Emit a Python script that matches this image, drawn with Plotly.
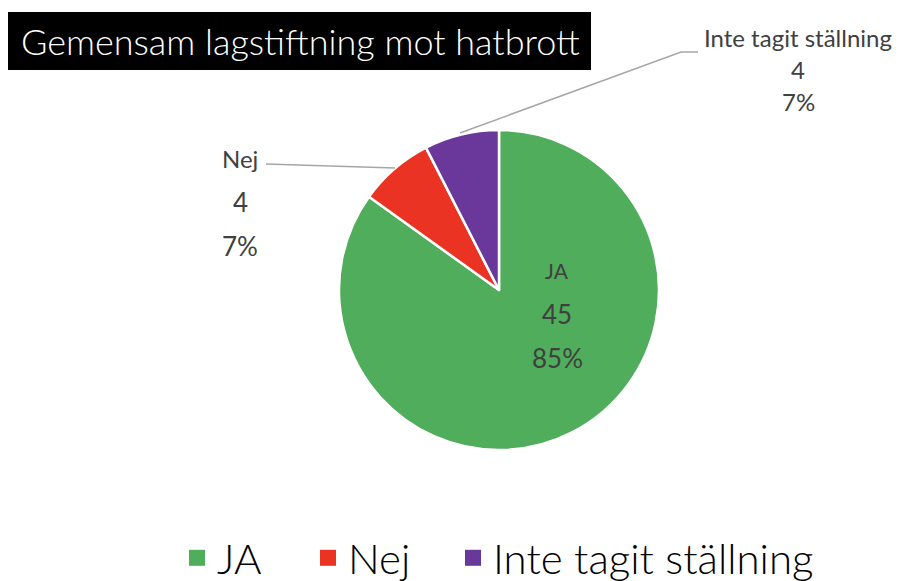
import plotly.graph_objects as go

labels = ["JA", "Nej", "Inte tagit ställning"]
values = [45, 4, 4]
percents = ["85%", "7%", "7%"]
colors = ["#4FAD5B", "#EB3323", "#6A389A"]
title_text = "Gemensam lagstiftning mot hatbrott"

OFF = 8  # page body margin
W, H = 901 - OFF, 581 - OFF + 11
cx, cy, r = 499, 290, 160

def px(x):
    return (x - OFF) / W

def py(y):
    return 1 - (y - OFF) / H

fig = go.Figure()
fig.add_trace(go.Pie(
    labels=labels, values=values, sort=False, direction="clockwise", rotation=0,
    marker=dict(colors=colors, line=dict(color="white", width=2.5)),
    textinfo="none", hoverinfo="label+value+percent", showlegend=False,
    domain=dict(x=[px(cx - r), px(cx + r)], y=[py(cy + r), py(cy - r)]),
))
# legend entries (square markers) for the three categories, one legend each
legend_ids = ["legend", "legend2", "legend3"]
for lab, col, lid in zip(labels, colors, legend_ids):
    fig.add_trace(go.Scatter(x=[None], y=[None], mode="markers", name=lab, legend=lid,
                             marker=dict(symbol="square", size=22, color=col),
                             hoverinfo="skip"))

label_font = dict(family="Lato, Open Sans, sans-serif", color="#404040")
ann = []
label_pos = [
    (557, [270, 314, 358], [21, 26, 26]),
    (240, [158, 202, 246], [24, 26, 26]),
    (798, [38, 70, 102], [24, 24, 24]),
]
for i, (x, ys, sizes) in enumerate(label_pos):
    lines = [labels[i], str(values[i]), percents[i]]
    for t, yy, s in zip(lines, ys, sizes):
        ann.append(dict(x=px(x), y=py(yy), xref="paper", yref="paper", text=t,
                        showarrow=False, xanchor="center", yanchor="middle",
                        font=dict(size=s, **label_font)))

ann.append(dict(x=px(300), y=py(41), xref="paper", yref="paper", text=title_text,
                showarrow=False, xanchor="center", yanchor="middle",
                font=dict(family="Lato, sans-serif", size=36, color="white", weight=300)))

shapes = [
    dict(type="rect", xref="paper", yref="paper", x0=px(8), x1=px(591), y0=py(70), y1=py(12),
         fillcolor="black", line=dict(width=0)),
    dict(type="path", xref="paper", yref="paper",
         path=f"M{px(266)},{py(164)} L{px(395)},{py(168)}",
         line=dict(color="#A6A6A6", width=1.5)),
    dict(type="path", xref="paper", yref="paper",
         path=f"M{px(460)},{py(133)} L{px(681)},{py(52)} L{px(698)},{py(52)}",
         line=dict(color="#A6A6A6", width=1.5)),
]

legend_font = dict(family="Lato, sans-serif", size=42, color="black", weight=300)
legend_x = [177, 308, 453]
legends = {}
for lid, lx in zip(legend_ids, legend_x):
    legends[lid] = dict(orientation="h", x=px(lx), xanchor="left", y=0, yanchor="bottom",
                        font=legend_font, bgcolor="rgba(0,0,0,0)")

fig.update_layout(
    width=W, height=H, margin=dict(l=0, r=0, t=0, b=0),
    paper_bgcolor="white", plot_bgcolor="white",
    xaxis=dict(visible=False), yaxis=dict(visible=False),
    annotations=ann, shapes=shapes,
    showlegend=True,
    **legends,
)

fig.write_html("out.html")
